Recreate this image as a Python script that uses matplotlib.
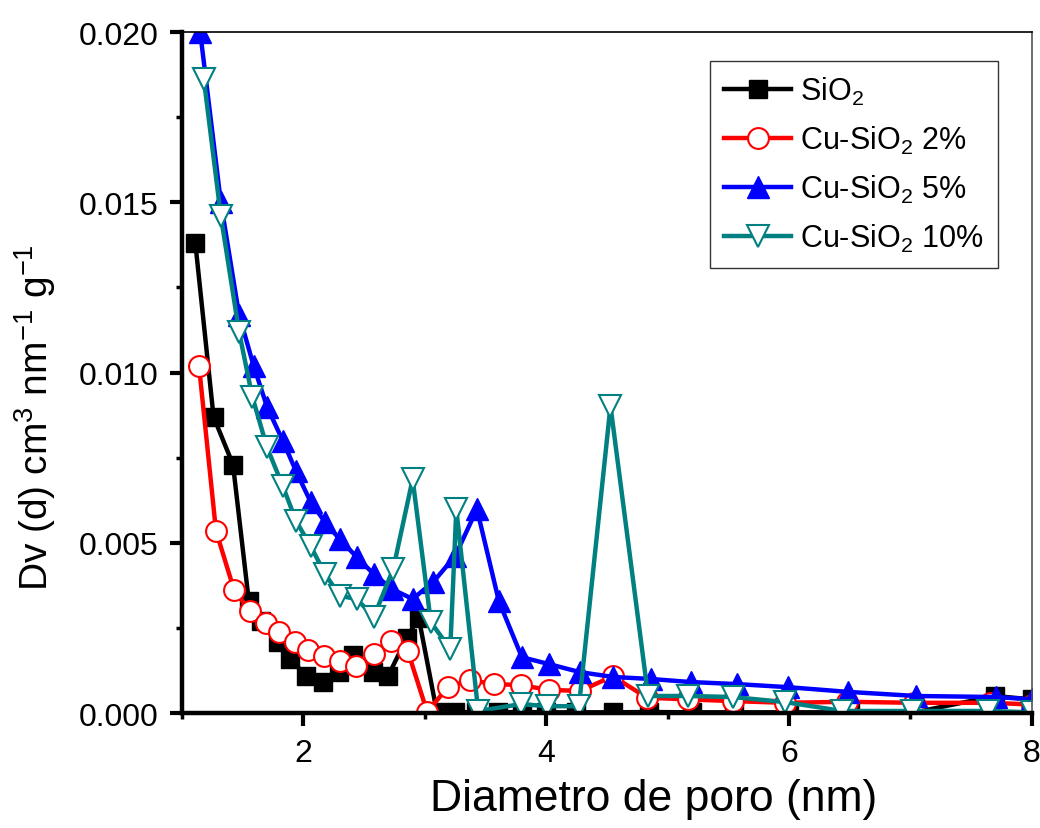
import matplotlib
matplotlib.use("Agg")
import matplotlib.pyplot as plt
from matplotlib.ticker import MultipleLocator, FormatStrFormatter

plt.rcParams['font.family'] = ['Liberation Sans', 'DejaVu Sans']
plt.rcParams['mathtext.fontset'] = 'custom'
plt.rcParams['mathtext.rm'] = 'Liberation Sans'

# ---- data ----
sio2_x = [1.11, 1.26, 1.42, 1.55, 1.65, 1.79, 1.89, 2.02, 2.16, 2.29, 2.41, 2.57, 2.70,
          2.85, 2.95, 3.10, 3.25, 3.42, 3.60, 3.80, 4.00, 4.25, 4.55, 4.85, 5.20, 5.55,
          6.00, 6.50, 7.05, 7.70, 8.00]
sio2_y = [0.0138, 0.0087, 0.0073, 0.0033, 0.0027, 0.0021, 0.0016, 0.0011, 0.0009, 0.0012,
          0.0017, 0.0012, 0.0011, 0.0022, 0.0028, 0.00002, 0.00003, 0.00002, 0.00002, 0.00003,
          0.00002, 0.00002, 0.00002, 0.00003, 0.00002, 0.00002, 0.00002, 0.00002, 0.00003,
          0.0005, 0.0004]

cu2_x = [1.14, 1.28, 1.43, 1.56, 1.69, 1.80, 1.93, 2.04, 2.17, 2.30, 2.43, 2.58, 2.72, 2.86,
         3.02, 3.19, 3.37, 3.57, 3.79, 4.02, 4.28, 4.55, 4.83, 5.17, 5.54, 5.97, 6.48, 7.03,
         7.66, 8.00]
cu2_y = [0.0102, 0.00535, 0.0036, 0.0030, 0.00264, 0.00238, 0.00209, 0.00185, 0.00167,
         0.00153, 0.00138, 0.00173, 0.00211, 0.00182, 0.00003, 0.00076, 0.00097, 0.00085,
         0.00082, 0.00068, 0.00065, 0.00108, 0.00045, 0.0004, 0.00035, 0.0003, 0.00033,
         0.0003, 0.0003, 0.00025]

cu5_x = [1.15, 1.32, 1.47, 1.59, 1.70, 1.83, 1.94, 2.06, 2.18, 2.30, 2.44, 2.58, 2.73,
         2.90, 3.07, 3.25, 3.43, 3.61, 3.80, 4.02, 4.28, 4.55, 4.86, 5.19, 5.57, 5.99,
         6.49, 7.05, 7.71, 8.00]
cu5_y = [0.0200, 0.0150, 0.0117, 0.0102, 0.0090, 0.0080, 0.0071, 0.0062, 0.0056, 0.0051,
         0.00458, 0.00408, 0.00364, 0.00335, 0.00385, 0.00461, 0.00599, 0.00329, 0.00164,
         0.00144, 0.0012, 0.00106, 0.0010, 0.00091, 0.00085, 0.00076, 0.00062, 0.0005,
         0.00047, 0.0004]

cu10_x = [1.18, 1.32, 1.47, 1.58, 1.70, 1.83, 1.94, 2.06, 2.18, 2.30, 2.44, 2.58, 2.74,
          2.90, 3.05, 3.21, 3.26, 3.44, 3.79, 4.01, 4.27, 4.53, 4.84, 5.17, 5.54, 5.97,
          6.44, 7.01, 7.64, 8.00]
cu10_y = [0.01862, 0.0146, 0.0112, 0.00928, 0.00781, 0.00667, 0.00564, 0.0049, 0.00408,
          0.00344, 0.00335, 0.00282, 0.00423, 0.00687, 0.00267, 0.00188, 0.00599, 0.00006,
          0.00026, 0.0002, 0.0002, 0.00902, 0.0005, 0.0005, 0.00047, 0.00032, 0.00006,
          0.00006, 0.00006, 0.00002]

labels = [r'SiO$\mathregular{_2}$', r'Cu-SiO$\mathregular{_2}$ 2%',
          r'Cu-SiO$\mathregular{_2}$ 5%', r'Cu-SiO$\mathregular{_2}$ 10%']

fig = plt.figure(figsize=(10.4, 8.29), dpi=100)
ax = fig.add_axes([0.175, 0.1387, 0.817, 0.8213])

lw = 3.2
ax.plot(sio2_x, sio2_y, color='black', lw=lw, marker='s', ms=12.5,
        mfc='black', mec='black', label=labels[0])
ax.plot(cu2_x, cu2_y, color='red', lw=lw, marker='o', ms=15,
        mfc='white', mec='red', mew=1.5, label=labels[1])
ax.plot(cu5_x, cu5_y, color='blue', lw=lw, marker='^', ms=16,
        mfc='blue', mec='blue', label=labels[2])
ax.plot(cu10_x, cu10_y, color='#008080', lw=lw, marker='v', ms=16,
        mfc='white', mec='#008080', mew=1.5, label=labels[3])

ax.set_xlim(1.0, 8.0)
ax.set_ylim(0.0, 0.020)

ax.xaxis.set_major_locator(MultipleLocator(2))
ax.xaxis.set_minor_locator(MultipleLocator(1))
ax.yaxis.set_major_locator(MultipleLocator(0.005))
ax.yaxis.set_minor_locator(MultipleLocator(0.0025))
ax.yaxis.set_major_formatter(FormatStrFormatter('%.3f'))

for s in ['left', 'bottom']:
    ax.spines[s].set_linewidth(3.2)
ax.spines['top'].set_linewidth(1.2)
ax.spines['right'].set_linewidth(1.2)
ax.spines['right'].set_color('#555555')

ax.tick_params(which='major', direction='out', length=9, width=3, labelsize=23,
               top=False, right=False)
ax.tick_params(axis='y', which='major', pad=8)
ax.tick_params(axis='x', which='major', pad=9)
ax.tick_params(which='minor', direction='out', length=4, width=2.5,
               top=False, right=False)

ax.set_xlabel('Diametro de poro (nm)', fontsize=32)
ax.xaxis.set_label_coords(0.555, -0.095, transform=ax.transAxes)
ax.set_ylabel(r'Dv (d) cm$\mathregular{^3}$ nm$\mathregular{^{-1}}$ g$\mathregular{^{-1}}$',
              fontsize=28)
ax.yaxis.set_label_coords(-0.146, 0.435, transform=ax.transAxes)

leg = ax.legend(loc='upper right', bbox_to_anchor=(0.96, 0.957), fontsize=22,
                frameon=True, fancybox=False, edgecolor='black', handlelength=2.2,
                borderpad=0.45, labelspacing=0.55, handletextpad=0.3, borderaxespad=0)
leg.get_frame().set_linewidth(1.0)

fig.savefig('out.png', dpi=100)
